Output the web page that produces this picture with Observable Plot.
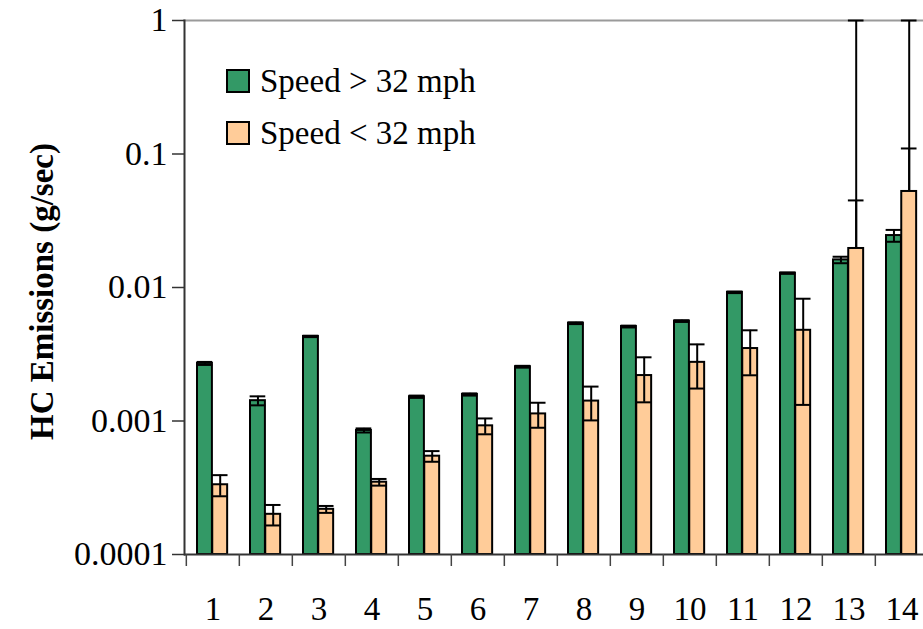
<!DOCTYPE html>
<html>
<head>
<meta charset="utf-8">
<script src="https://cdn.jsdelivr.net/npm/d3@7"></script>
<script src="https://cdn.jsdelivr.net/npm/@observablehq/plot@0.6"></script>
<style>
  body { margin: 0; background: #fff; }
  #wrap { position: relative; width: 923px; height: 629px; overflow: hidden; }
  #wrap svg, #wrap svg text { font-family: "Liberation Serif", "Times New Roman", Times, "DejaVu Serif", serif; }
  .legend { position: absolute; left: 226px; top: 55px; font-family: "Liberation Serif", "Times New Roman", Times, "DejaVu Serif", serif; font-size: 33px; color: #000; }
  .legend .row { display: flex; align-items: center; height: 52px; }
  .legend .sw { width: 20px; height: 20px; border: 2px solid #000; margin-right: 10px; box-sizing: content-box; }
</style>
</head>
<body>
<div id="wrap"></div>
<script>
// ---- data ----
const categories = ["1","2","3","4","5","6","7","8","9","10","11","12","13","14"];
const seriesNames = ["Speed > 32 mph", "Speed < 32 mph"];
const fastValues = [0.0027, 0.00142, 0.0043, 0.00085, 0.00152, 0.00158, 0.00255, 0.0054, 0.0051, 0.0056, 0.0092, 0.0128, 0.0161, 0.0245];
const fastErrors = [0.00007, 0.00011, 0.00005, 0.00003, 0.00003, 0.00003, 0.00004, 0.00008, 0.00008, 0.00008, 0.00012, 0.00015, 0.0009, 0.0025];
const slowValues = [0.000333, 0.0002, 0.000218, 0.000348, 0.000545, 0.00092, 0.00113, 0.00141, 0.00219, 0.00275, 0.00349, 0.00478, 0.0196, 0.0524];
const slowErrors = [0.00006, 0.000035, 0.000013, 0.00002, 0.00005, 0.000125, 0.00024, 0.0004, 0.00081, 0.001, 0.00129, 0.00346, 0.0253, 0.0576];
const yTicks = [0.0001, 0.001, 0.01, 0.1, 1];
const yLabel = "HC Emissions (g/sec)";
const colors = ["#339966", "#FFCC99"];

// ---- build ----
const yDomain = [0.0001, 1];
function rows(values, errors) {
  return categories.map((c, i) => {
    const v = values[i], e = errors[i];
    const lo = v - e > 0 ? v - e : yDomain[1]; // negative lower bound on log axis is clipped to the top (as in the source)
    return {cat: c, v, hi: v + e, lo};
  });
}
const fast = rows(fastValues, fastErrors);
const slow = rows(slowValues, slowErrors);

const W = 923, H = 629;
const xRange = [184, 930.9];
const step = (xRange[1] - xRange[0]) / categories.length;
const g0 = 11, bw = 15.25;
const cG = g0 + bw / 2, cS = g0 + bw * 1.5;
const capHalf = 8;
const serif = "Liberation Serif, Times New Roman, Times, DejaVu Serif, serif";

const chart = Plot.plot({
  width: W, height: H,
  marginLeft: 184, marginRight: 0, marginTop: 20, marginBottom: 75,
  style: {fontFamily: serif, fontSize: "33px", color: "#000", background: "#fff"},
  x: {type: "band", domain: categories, range: xRange, padding: 0},
  y: {type: "log", domain: yDomain},
  marks: [
    Plot.frame({anchor: "top", stroke: "#9a9a9a", strokeWidth: 2}),
    Plot.barY(fast, {x: "cat", y1: yDomain[0], y2: "v", fill: colors[0], stroke: "#000", strokeWidth: 2,
      insetLeft: g0, insetRight: step - g0 - bw}),
    Plot.barY(slow, {x: "cat", y1: yDomain[0], y2: "v", fill: colors[1], stroke: "#000", strokeWidth: 2,
      insetLeft: g0 + bw, insetRight: step - g0 - 2 * bw}),
    Plot.ruleX(fast, {x: "cat", y1: "v", y2: "hi", dx: cG - step / 2, stroke: "#000", strokeWidth: 2}),
    Plot.ruleX(fast, {x: "cat", y1: "v", y2: "lo", dx: cG - step / 2, stroke: "#000", strokeWidth: 2}),
    Plot.tickY(fast, {x: "cat", y: "hi", insetLeft: cG - capHalf, insetRight: step - cG - capHalf, stroke: "#000", strokeWidth: 2}),
    Plot.tickY(fast, {x: "cat", y: "lo", insetLeft: cG - capHalf, insetRight: step - cG - capHalf, stroke: "#000", strokeWidth: 2}),
    Plot.ruleX(slow, {x: "cat", y1: "v", y2: "hi", dx: cS - step / 2, stroke: "#000", strokeWidth: 2}),
    Plot.ruleX(slow, {x: "cat", y1: "v", y2: "lo", dx: cS - step / 2, stroke: "#000", strokeWidth: 2}),
    Plot.tickY(slow, {x: "cat", y: "hi", insetLeft: cS - capHalf, insetRight: step - cS - capHalf, stroke: "#000", strokeWidth: 2}),
    Plot.tickY(slow, {x: "cat", y: "lo", insetLeft: cS - capHalf, insetRight: step - cS - capHalf, stroke: "#000", strokeWidth: 2}),
    Plot.ruleY([yDomain[0]], {stroke: "#333", strokeWidth: 2}),
    Plot.frame({anchor: "left", stroke: "#333", strokeWidth: 2}),
    Plot.axisY({ticks: yTicks, tickFormat: d => String(d), tickSize: 12, tickPadding: 5, fontSize: 34, label: null, stroke: "#333", strokeWidth: 1.5}),
    Plot.axisX({tickSize: 12, tickFormat: () => "", dx: -step / 2, label: null, stroke: "#444", strokeWidth: 1.5}),
    Plot.axisX({tickSize: 0, tickPadding: 42, fontSize: 33, label: null}),
    Plot.text([yLabel], {text: d => d, frameAnchor: "left", textAnchor: "middle", lineAnchor: "middle", rotate: -90, dx: -142, dy: 4, fontSize: 33, fontWeight: "bold"})
  ]
});

const wrap = document.getElementById("wrap");
wrap.appendChild(chart);
const legend = document.createElement("div");
legend.className = "legend";
seriesNames.forEach((name, i) => {
  const row = document.createElement("div");
  row.className = "row";
  const sw = document.createElement("span");
  sw.className = "sw";
  sw.style.background = colors[i];
  const t = document.createElement("span");
  t.textContent = name;
  row.appendChild(sw);
  row.appendChild(t);
  legend.appendChild(row);
});
wrap.appendChild(legend);
</script>
</body>
</html>
